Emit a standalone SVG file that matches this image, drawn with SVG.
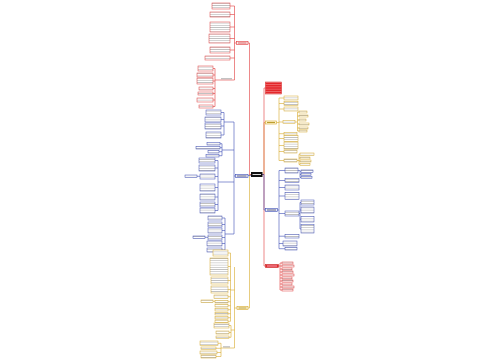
<svg xmlns="http://www.w3.org/2000/svg" width="500" height="360" viewBox="0 0 500 360">
<defs>
<pattern id="t" patternUnits="userSpaceOnUse" width="4" height="2.2"><rect width="4" height="2.2" fill="#fff"/><rect y="0.8" width="4" height="0.6" fill="#b4b4b4"/></pattern>
<pattern id="tw" patternUnits="userSpaceOnUse" width="4" height="2.2"><rect width="4" height="2.2" fill="#e4262a"/><rect y="0.8" width="4" height="0.5" fill="#f5a0a0"/></pattern>
<style>
.l{fill:url(#t);stroke-width:.5}
.r{stroke:#e0393b}.b{stroke:#3c4db5}.y{stroke:#d6a92a}
.c{fill:none;stroke-width:.6}
.m{stroke-width:.6}
</style>
</defs>
<rect width="500" height="360" fill="#fff"/>
<g id="connectors">
<path class="c y" d="M262,174.5H264V122.5H265.5"/>
<path class="c r" d="M262,174.5H264V88H265.5"/>
<path class="c r" d="M262,174.5H264V266H265.5"/>
<path class="c b" d="M262,174.5H264V210H265.5"/>
<path class="c y" d="M251,174.5H249.5V308H248"/>
<path class="c r" d="M251,174.5H249.5V43H248"/>
<path class="c b" d="M251,175.5H248"/>
<path class="c r" d="M234.5,6V80M234.5,43H236.5M230,6H234.5M230,14.5H234.5M230,27H234.5M230,38.5H234.5M230,50H234.5M230,58H234.5M215,68.5V106.5M213,68.5H215M213,75H215M213,81H215M213,88.5H215M213,93.5H215M213,100H215M213,106.5H215M215,80H234.5"/>
<path class="c b" d="M234,122V234M234,176H235.5M224,112.5V135M221,112.5H224M221,119.5H224M221,126H224M221,135H224M224,122H234M222,143.7V155.7M220,143.7H222M220,147.7H222M219,151.7H222M219,155.7H222M222,150H234M218,160.5V210.5M215,160.5H218M215,168H218M215,176.5H218M215,187.5H218M215,197H218M215,204.5H218M215,210.5H218M218,182H234M197,176.3H200M225,218V250M222,218H225M222,224.5H225M222,230.5H225M222,237.5H225M222,243.5H225M222,250H225M225,234H234M205,237.3H208"/>
<path class="c y" d="M234.5,267V348M234.5,308H237M230.5,253V321.3M228,253H230.5M228,266.5H230.5M228,280.5H230.5M228,289.5H230.5M228,296.7H230.5M228,301.7H230.5M228,305.7H230.5M228,309.7H230.5M228,313.7H230.5M228,317.7H230.5M228,321.3H230.5M230.5,290H234.5M213,301.3H215M231,325.5V337.3M229,325.5H231M229,332.5H231M229,337.3H231M231,330H234.5M221,343.3V356.5M218,343.3H221M216,348.3H221M217,352.5H221M216,356.5H221M221,348H234.5"/>
<path class="c y" d="M279,98V160.5M276.5,122.5H279M279,98H284M279,103.5H284M279,109H284M279,122H283M279,133.7H284M279,138.5H284M279,145.5H284M279,151.5H284M279,160.5H284M295,122H297.5M297.5,112V131M297.5,112H299M297.5,116H299M297.5,120H299M297.5,124H299M297.5,128H299M297.5,131H299M297,160.5H299M299,154.2V164.5M299,154.2H300M299,158H300M299,161H300M299,164.5H300"/>
<path class="c b" d="M279,170.5V248.7M277.5,210H279M279,170.5H285M279,180.5H285M279,187.5H285M279,196H285M279,213.5H285M279,236.2H285M279,243.5H283M279,248.7H285M298,170.5H300M300,171.2V177.5M300,171.2H301M300,174.5H301M300,177.5H301M299,213.5H300M300,202.5V229M300,202.5H301M300,210H301M300,219.2H301M300,229H301"/>
<path class="c r" d="M278.5,266H280M280,263V290M280,263H282M280,266H282M280,269H282M280,272H282M280,275H282M280,278H282M280,281H282M280,284H282M280,287H282M280,290H282"/>
</g>
<g id="center"><rect x="251" y="172" width="11.5" height="5" fill="#111"/><rect x="252.5" y="174" width="8.5" height="1" fill="#ddd"/></g>
<g id="left-red">
<rect x="236.5" y="41.5" width="11.5" height="3" fill="#fde8e8" class="r m"/><rect x="238" y="42.6" width="8.5" height="0.8" fill="#c44"/>
<rect class="l r" x="212" y="3" width="18" height="6"/>
<rect class="l r" x="210" y="12" width="20" height="5"/>
<rect class="l r" x="210" y="22" width="20" height="10"/>
<rect class="l r" x="209" y="34" width="21" height="9"/>
<rect class="l r" x="210" y="47" width="20" height="6"/>
<rect class="l r" x="205" y="56" width="25" height="4"/>
<rect class="l r" x="198" y="66" width="15" height="5"/>
<rect class="l r" x="197" y="73" width="16" height="4"/>
<rect class="l r" x="197" y="78" width="16" height="6"/>
<rect class="l r" x="199" y="87" width="14" height="3"/>
<rect class="l r" x="198" y="92" width="15" height="3"/>
<rect class="l r" x="197" y="98" width="16" height="4"/>
<rect class="l r" x="199" y="105" width="14" height="3"/>
<rect x="221" y="78.3" width="11" height="1" fill="#aaa"/>
</g>
<g id="left-blue">
<rect x="235.5" y="174.5" width="12.5" height="3" fill="#e6e9fa" class="b m"/><rect x="237" y="175.6" width="9.5" height="0.8" fill="#446"/>
<rect class="l b" x="206" y="110" width="15" height="5"/>
<rect class="l b" x="205" y="117" width="16" height="5"/>
<rect class="l b" x="205" y="123" width="16" height="6"/>
<rect class="l b" x="206" y="132" width="15" height="6"/>
<rect class="l b" x="207" y="142.5" width="13" height="2.5"/>
<rect class="l b" x="196" y="146.5" width="24" height="2.5"/>
<rect class="l b" x="208" y="150.5" width="11" height="2.5"/>
<rect class="l b" x="206" y="154.5" width="13" height="2.5"/>
<rect class="l b" x="199" y="158" width="16" height="5"/>
<rect class="l b" x="199" y="165" width="16" height="6"/>
<rect class="l b" x="200" y="174" width="15" height="5"/>
<rect class="l b" x="185" y="175" width="12" height="2.5"/>
<rect class="l b" x="200" y="184" width="15" height="7"/>
<rect class="l b" x="200" y="194" width="15" height="6"/>
<rect class="l b" x="200" y="202" width="15" height="5"/>
<rect class="l b" x="200" y="208" width="15" height="5"/>
<rect class="l b" x="208" y="216" width="14" height="4"/>
<rect class="l b" x="208" y="222" width="14" height="5"/>
<rect class="l b" x="208" y="228" width="14" height="5"/>
<rect class="l b" x="208" y="235" width="14" height="5"/>
<rect class="l b" x="193" y="236" width="12" height="2.5"/>
<rect class="l b" x="207" y="241" width="15" height="5"/>
<rect class="l b" x="207" y="248" width="15" height="4"/>
</g>
<g id="left-yellow">
<rect x="237" y="306.5" width="11" height="3" fill="#fdf5dc" class="y m"/><rect x="238.5" y="307.6" width="8" height="0.8" fill="#a80"/>
<rect class="l y" x="213" y="250" width="15" height="6"/>
<rect class="l y" x="210" y="258" width="18" height="17"/>
<rect class="l y" x="211" y="277" width="17" height="7"/>
<rect class="l y" x="211" y="286" width="17" height="7"/>
<rect class="l y" x="214" y="295" width="14" height="3.5"/>
<rect class="l y" x="215" y="300.5" width="13" height="2.5"/>
<rect class="l y" x="201" y="300" width="12" height="2.5"/>
<rect class="l y" x="215" y="304.5" width="13" height="2.5"/>
<rect class="l y" x="215" y="308.5" width="13" height="2.5"/>
<rect class="l y" x="215" y="312.5" width="13" height="2.5"/>
<rect class="l y" x="215" y="316.5" width="13" height="2.5"/>
<rect class="l y" x="215" y="320" width="13" height="2.5"/>
<rect class="l y" x="214" y="323" width="15" height="5"/>
<rect class="l y" x="216" y="331" width="13" height="3"/>
<rect class="l y" x="216" y="336" width="13" height="2.5"/>
<rect class="l y" x="200" y="341" width="18" height="4.5"/>
<rect class="l y" x="201" y="347" width="15" height="2.5"/>
<rect class="l y" x="200" y="351" width="17" height="3"/>
<rect class="l y" x="201" y="355" width="15" height="3"/>
<rect x="223" y="346.4" width="7" height="1" fill="#aaa"/>
</g>
<g id="right-red-top">
<rect x="265.5" y="82" width="16" height="12" fill="url(#tw)" stroke="#d42020" stroke-width=".5"/>
</g>
<g id="right-yellow">
<rect x="265.5" y="121" width="11" height="3" fill="#fdf5dc" class="y m"/><rect x="267" y="122.1" width="8" height="0.8" fill="#a80"/>
<rect class="l y" x="284" y="96" width="14" height="4"/>
<rect class="l y" x="284" y="101.5" width="14" height="4"/>
<rect class="l y" x="284" y="107" width="14" height="4"/>
<rect class="l y" x="283" y="120.5" width="12" height="3"/>
<rect class="l y" x="299" y="111" width="8" height="2"/>
<rect class="l y" x="299" y="115" width="9" height="2"/>
<rect class="l y" x="299" y="119" width="7" height="2"/>
<rect class="l y" x="299" y="123" width="10" height="2"/>
<rect class="l y" x="299" y="127" width="9" height="2"/>
<rect class="l y" x="299" y="130" width="8" height="2"/>
<rect class="l y" x="284" y="132.5" width="13" height="2.5"/>
<rect class="l y" x="284" y="135.5" width="14" height="6"/>
<rect class="l y" x="284" y="142" width="14" height="7"/>
<rect class="l y" x="284" y="150" width="13" height="3"/>
<rect class="l y" x="284" y="159" width="13" height="3"/>
<rect class="l y" x="300" y="153" width="14" height="2.5"/>
<rect class="l y" x="300" y="157" width="10" height="2"/>
<rect class="l y" x="300" y="160" width="11" height="2"/>
<rect class="l y" x="300" y="163.5" width="10" height="2"/>
</g>
<g id="right-blue">
<rect x="265.5" y="208.5" width="12" height="3" fill="#e6e9fa" class="b m"/><rect x="267" y="209.6" width="9" height="0.8" fill="#446"/>
<rect class="l b" x="285" y="168" width="13" height="5"/>
<rect class="l b" x="301" y="170" width="12" height="2.5"/>
<rect class="l b" x="301" y="173.5" width="10" height="2"/>
<rect class="l b" x="301" y="176.5" width="11" height="2"/>
<rect class="l b" x="285" y="178.5" width="14" height="4"/>
<rect class="l b" x="285" y="185" width="14" height="5"/>
<rect class="l b" x="285" y="192.5" width="14" height="7"/>
<rect class="l b" x="285" y="211" width="14" height="5"/>
<rect class="l b" x="301" y="200" width="13" height="5"/>
<rect class="l b" x="301" y="207" width="13" height="6"/>
<rect class="l b" x="301" y="216.5" width="13" height="5.5"/>
<rect class="l b" x="301" y="224.5" width="13" height="8.5"/>
<rect class="l b" x="285" y="234.5" width="14" height="3.5"/>
<rect class="l b" x="283" y="241" width="14" height="5"/>
<rect class="l b" x="285" y="247.5" width="12" height="2.5"/>
</g>
<g id="right-red-bottom">
<rect x="265.5" y="264.5" width="13" height="3" fill="#e02a2a" stroke="#c41a1a" stroke-width=".5"/><rect x="267" y="265.6" width="10" height="0.8" fill="#fbd"/>
<rect class="l r" x="282" y="262" width="11" height="2"/>
<rect class="l r" x="282" y="265" width="12" height="2"/>
<rect class="l r" x="282" y="268" width="10" height="2"/>
<rect class="l r" x="282" y="271" width="11" height="2"/>
<rect class="l r" x="282" y="274" width="12" height="2"/>
<rect class="l r" x="282" y="277" width="10" height="2"/>
<rect class="l r" x="282" y="280" width="11" height="2"/>
<rect class="l r" x="282" y="283" width="10" height="2"/>
<rect class="l r" x="282" y="286" width="12" height="2"/>
<rect class="l r" x="282" y="289" width="11" height="2"/>
</g>
</svg>
